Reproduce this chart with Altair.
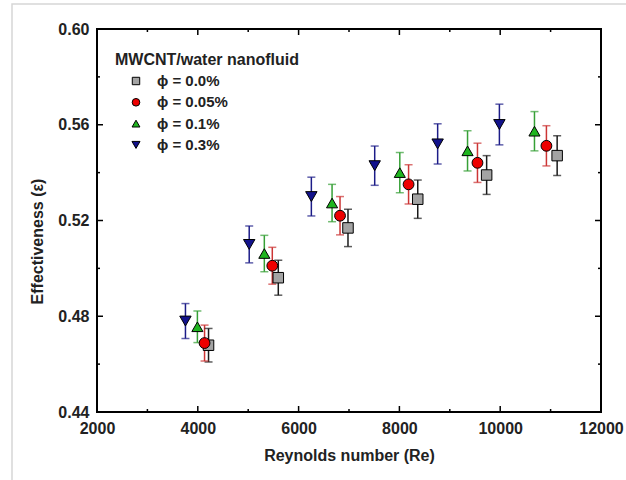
import altair as alt
import pandas as pd

# ---- data ----
legend_title = "MWCNT/water nanofluid"
labels = ["ϕ = 0.0%", "ϕ = 0.05%", "ϕ = 0.1%", "ϕ = 0.3%"]

re_00 = [4213, 5597, 6980, 8364, 9731, 11130]
eff_00 = [0.4679, 0.4961, 0.5169, 0.5289, 0.5390, 0.5471]
err_00 = [0.0070, 0.0073, 0.0078, 0.0080, 0.0081, 0.0083]

re_005 = [4134, 5478, 6822, 8182, 9549, 10917]
eff_005 = [0.4688, 0.5011, 0.5220, 0.5351, 0.5441, 0.5512]
err_005 = [0.0075, 0.0077, 0.0080, 0.0082, 0.0082, 0.0084]

re_01 = [3992, 5320, 6664, 8008, 9352, 10680]
eff_01 = [0.4756, 0.5062, 0.5273, 0.5400, 0.5491, 0.5573]
err_01 = [0.0066, 0.0076, 0.0078, 0.0084, 0.0084, 0.0082]

re_03 = [3755, 5020, 6253, 7510, 8759, 9984]
eff_03 = [0.4780, 0.5100, 0.5300, 0.5429, 0.5520, 0.5601]
err_03 = [0.0073, 0.0077, 0.0081, 0.0082, 0.0084, 0.0085]

x_major = [2000, 4000, 6000, 8000, 10000, 12000]
x_minor = [3000, 5000, 7000, 9000, 11000]
y_major = [0.44, 0.48, 0.52, 0.56, 0.60]
y_minor = [0.46, 0.50, 0.54, 0.58]

fill_colors = ["#a3a3a3", "#ee0000", "#1fb51f", "#12128c"]
bar_colors = ["#1a1a1a", "#cc3535", "#36a036", "#1c1c88"]
shapes = ["square", "circle", "triangle-up", "triangle-down"]
sizes = [110, 130, 150, 190]
legend_sizes = [55, 65, 75, 85]

W, H = 504, 383
xdom = [x_major[0], x_major[-1]]
ydom = [y_major[0], y_major[-1]]
kx = (xdom[1] - xdom[0]) / W   # data units per pixel
ky = (ydom[1] - ydom[0]) / H
MAJ, MIN = 6, 3                # tick lengths in pixels

rows = []
for lab, xs, ys, es in zip(labels, [re_00, re_005, re_01, re_03],
                           [eff_00, eff_005, eff_01, eff_03],
                           [err_00, err_005, err_01, err_03]):
    for a, b, c in zip(xs, ys, es):
        rows.append({"kind": "pt", "series": lab, "re": a, "eff": b,
                     "lo": b - c, "hi": b + c})
# inward tick centres, built from the tick value lists
for kind, vals, L in [("xM", x_major, MAJ), ("xm", x_minor, MIN)]:
    for v in vals:
        rows.append({"kind": kind, "re": v, "eff": ydom[0] + L / 2 * ky})
        rows.append({"kind": kind, "re": v, "eff": ydom[1] - L / 2 * ky})
for kind, vals, L in [("yM", y_major, MAJ), ("ym", y_minor, MIN)]:
    for v in vals:
        rows.append({"kind": kind, "eff": v, "re": xdom[0] + L / 2 * kx})
        rows.append({"kind": kind, "eff": v, "re": xdom[1] - L / 2 * kx})
df = pd.DataFrame(rows)
leg_df = pd.DataFrame({"series": labels, "idx": list(range(len(labels)))})

xscale = alt.Scale(domain=xdom, nice=False, zero=False)
yscale = alt.Scale(domain=ydom, nice=False, zero=False)

xaxis = alt.Axis(values=x_major, format="d", title="Reynolds number (Re)",
                 ticks=False, domain=False, grid=False, labelFlush=False,
                 labelFontSize=16, labelFontWeight="bold", labelColor="#222",
                 labelPadding=8, titlePadding=11, titleColor="#222",
                 titleFontSize=16, titleFontWeight="bold")
yaxis = alt.Axis(values=y_major, format=".2f", title="Effectiveness (ε)",
                 ticks=False, domain=False, grid=False, labelFlush=False,
                 labelFontSize=16, labelFontWeight="bold", labelColor="#222",
                 labelPadding=8, titlePadding=12, titleColor="#222", titleY=212,
                 titleFontSize=16, titleFontWeight="bold")

X = alt.X("re:Q", scale=xscale, axis=xaxis)
Ylo = alt.Y("lo:Q", scale=yscale, axis=yaxis)
Yhi = alt.Y("hi:Q", scale=yscale, axis=yaxis)
Y = alt.Y("eff:Q", scale=yscale, axis=yaxis)

base = alt.Chart(df)
pts = base.transform_filter(alt.datum.kind == "pt")

bar_scale = alt.Scale(domain=labels, range=bar_colors)
fill_scale = alt.Scale(domain=labels, range=fill_colors)
shape_scale = alt.Scale(domain=labels, range=shapes)

err_rules = pts.mark_rule(strokeWidth=1.5).encode(
    x=X, y=Ylo, y2="hi:Q",
    stroke=alt.Stroke("series:N", scale=bar_scale, legend=None))

cap_lo = pts.mark_tick(orient="horizontal", size=8, thickness=1.5).encode(
    x=X, y=Ylo, color=alt.Color("series:N", scale=bar_scale, legend=None))
cap_hi = pts.mark_tick(orient="horizontal", size=8, thickness=1.5).encode(
    x=X, y=Yhi, color=alt.Color("series:N", scale=bar_scale, legend=None))

points = pts.mark_point(filled=True, stroke="black", strokeWidth=1, opacity=1).encode(
    x=X, y=Y,
    fill=alt.Fill("series:N", scale=fill_scale, legend=None),
    shape=alt.Shape("series:N", scale=shape_scale, legend=None),
    size=alt.Size("series:N", scale=alt.Scale(domain=labels, range=sizes), legend=None),
)

# inward ticks on all four sides, drawn as tick marks (same mark as the caps)
def frame_ticks(kind, orient, L):
    return base.transform_filter(alt.datum.kind == kind).mark_tick(
        orient=orient, size=L, thickness=1.5, color="black", opacity=1
    ).encode(x=X, y=Y)

tick_layers = [frame_ticks("xM", "vertical", MAJ), frame_ticks("xm", "vertical", MIN),
               frame_ticks("yM", "horizontal", MAJ), frame_ticks("ym", "horizontal", MIN)]

# legend drawn from the labels list (layout in pixels)
leg_base = alt.Chart(leg_df).transform_calculate(ly="52 + datum.idx * 21.3")
leg_sym = leg_base.mark_point(filled=True, stroke="black", strokeWidth=1, opacity=1).encode(
    x=alt.value(39), y=alt.Y("ly:Q", scale=None),
    fill=alt.Fill("series:N", scale=fill_scale, legend=None),
    shape=alt.Shape("series:N", scale=shape_scale, legend=None),
    size=alt.Size("series:N", scale=alt.Scale(domain=labels, range=legend_sizes), legend=None),
)
leg_txt = leg_base.mark_text(align="left", baseline="middle", fontSize=15,
                             fontWeight="bold", color="#222").encode(
    x=alt.value(60), y=alt.Y("ly:Q", scale=None), text="series:N")
leg_title = alt.Chart(pd.DataFrame({"t": [legend_title]})).mark_text(
    align="left", baseline="alphabetic", fontSize=16, fontWeight="bold", color="#222"
).encode(x=alt.value(18), y=alt.value(36), text="t:N")

# faint outer frame of the picture
frame = alt.Chart(pd.DataFrame({"f": [0]})).transform_calculate(
    fx0=f"{xdom[0] - 85 * kx}", fx1=f"{xdom[1] + 200 * kx}",
    fy0=f"{ydom[1] + 25 * ky}", fy1=f"{ydom[0] - 200 * ky}"
).mark_rect(fillOpacity=0, fill="white", stroke="#d6d6d6", strokeWidth=1.5).encode(
    x=alt.X("fx0:Q", scale=xscale, axis=xaxis), x2="fx1:Q",
    y=alt.Y("fy0:Q", scale=yscale, axis=yaxis), y2="fy1:Q")

chart = alt.layer(frame, err_rules, cap_lo, cap_hi, points, *tick_layers,
                  leg_sym, leg_txt, leg_title).resolve_scale(
    color="independent", stroke="independent", size="independent"
).properties(
    width=W, height=H,
    autosize=alt.AutoSizeParams(type="none"),
    padding={"left": 97, "top": 29, "right": 25, "bottom": 68},
    background="white",
).configure_view(stroke="black", strokeWidth=2)

chart.save("out.html", embed_options={"renderer": "svg", "actions": False})
